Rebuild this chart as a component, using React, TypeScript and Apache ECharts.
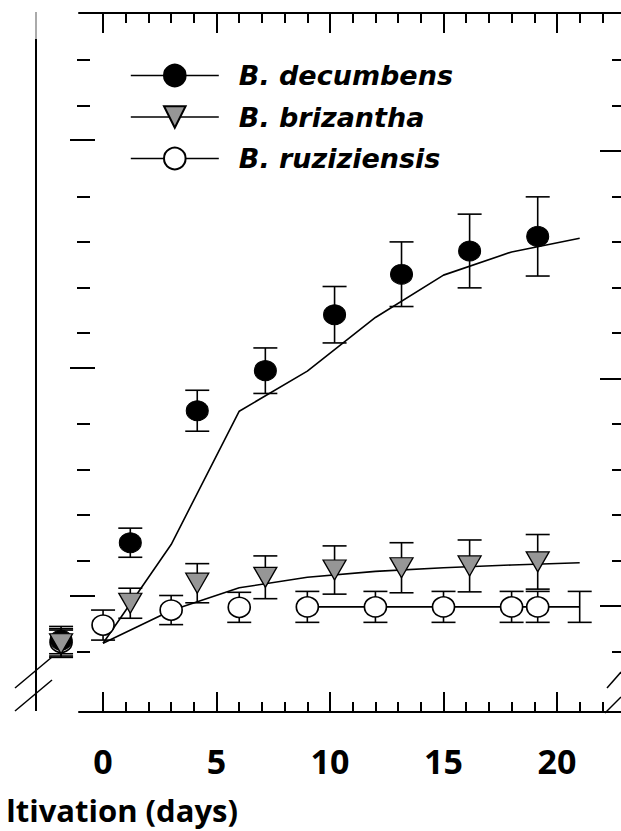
import React, { useEffect, useRef } from "react";
import * as echarts from "echarts";

// ---- data (days of cultivation, y in arbitrary units) ----
const decDays = [-1.85, 1.2, 4.15, 7.15, 10.2, 13.15, 16.15, 19.15];
const decMean = [4.25, 6.39, 9.29, 10.17, 11.4, 12.29, 12.8, 13.12];
const decErr = [0.3, 0.32, 0.45, 0.5, 0.62, 0.71, 0.81, 0.87];

const brizDays = [-1.85, 1.2, 4.15, 7.15, 10.2, 13.15, 16.15, 19.15];
const brizMean = [4.17, 5.06, 5.5, 5.63, 5.79, 5.84, 5.88, 5.97];
const brizErr = [0.3, 0.33, 0.43, 0.47, 0.53, 0.55, 0.57, 0.6];

const ruzDays = [-1.85, 0, 3, 6, 9, 12, 15, 18, 19.15];
const ruzMean = [4.2, 4.58, 4.91, 4.97, 4.98, 4.98, 4.98, 4.98, 4.98];
const ruzErr = [0.3, 0.33, 0.32, 0.33, 0.34, 0.34, 0.34, 0.34, 0.34];
const ruzBarOnlyDays = [21];
const ruzBarOnlyMean = [4.98];
const ruzBarOnlyErr = [0.34];

const decFitDays = [0, 3, 6, 9, 12, 15, 18, 21];
const decFit = [4.18, 6.35, 9.28, 10.16, 11.34, 12.27, 12.78, 13.08];
const brizFitDays = [0, 3, 6, 9, 12, 15, 18, 21];
const brizFit = [4.18, 4.9, 5.4, 5.63, 5.76, 5.84, 5.9, 5.95];
const ruzFitDays = [9, 21];
const ruzFit = [4.98, 4.98];

const xMajorTicks = [0, 5, 10, 15, 20];
const xMinorTicks = [0, 1, 2, 3, 4, 5, 6, 7, 8, 9, 10, 11, 12, 13, 14, 15, 16, 17, 18, 19, 20, 21, 22];
const yRightMinor = [4, 5, 6, 7, 8, 9, 10, 11, 12, 13, 14, 15, 16, 17];
const yRightMajor = [5, 10, 15];
const yLeftMinor = [4, 6, 7, 8, 9, 11, 12, 13, 14, 16, 17];
const yLeftMajor = [5.23, 10.24, 15.24];

const legendNames = ["B. decumbens", "B. brizantha", "B. ruziziensis"];
const xTitle = "ltivation (days)";

const X_MIN = -1.06;
const X_MAX = 22.82;
const Y_MIN = 2.67;
const Y_MAX = 18.03;

const LEGEND_FONT = "DejaVu Sans";
const AXIS_FONT = "Open Sans";

function pairs(xs: number[], ys: number[]) {
  return xs.map((x, i) => [x, ys[i]]);
}
function bars(xs: number[], ys: number[], es: number[]) {
  return xs.map((x, i) => [x, ys[i] - es[i], ys[i] + es[i]]);
}

const errRender = (params: any, api: any) => {
  const x = api.value(0);
  const lo = api.coord([x, api.value(1)]);
  const hi = api.coord([x, api.value(2)]);
  const hw = 12;
  const style = { stroke: "#000", lineWidth: 1.6 };
  return {
    type: "group",
    children: [
      { type: "line", shape: { x1: lo[0], y1: lo[1], x2: hi[0], y2: hi[1] }, style },
      { type: "line", shape: { x1: hi[0] - hw, y1: hi[1], x2: hi[0] + hw, y2: hi[1] }, style },
      { type: "line", shape: { x1: lo[0] - hw, y1: lo[1], x2: lo[0] + hw, y2: lo[1] }, style },
    ],
  };
};

const tickLine = { color: "#000", width: 2 };

function xAxisDef(position: "top" | "bottom", ticks: number[], len: number, showLine: boolean, labels: boolean) {
  return {
    type: "value",
    position,
    min: X_MIN,
    max: X_MAX,
    axisLine: { show: showLine, onZero: false, lineStyle: { color: "#000", width: 2 } },
    axisTick: { show: true, inside: true, length: len, customValues: ticks, lineStyle: tickLine },
    axisLabel: labels
      ? {
          show: true,
          customValues: xMajorTicks,
          margin: 32,
          color: "#000",
          fontFamily: AXIS_FONT,
          fontWeight: "bold",
          fontSize: 34,
        }
      : { show: false },
    splitLine: { show: false },
  };
}

function yAxisDef(position: "left" | "right", ticks: number[], len: number, inside: boolean, offset: number) {
  return {
    type: "value",
    position,
    offset,
    min: Y_MIN,
    max: Y_MAX,
    axisLine: { show: false, onZero: false },
    axisTick: { show: true, inside, length: len, customValues: ticks, lineStyle: tickLine },
    axisLabel: { show: false },
    splitLine: { show: false },
  };
}

export default function App() {
  const ref = useRef<HTMLDivElement>(null);

  useEffect(() => {
    if (!ref.current) return;
    const chart = echarts.init(ref.current, null, { renderer: "svg" });
    const option: any = {
      animation: false,
      backgroundColor: "#fff",
      grid: { left: 79, right: 0, top: 13, bottom: 119, containLabel: false },
      xAxis: [
        xAxisDef("bottom", xMinorTicks, 10, true, true),
        xAxisDef("bottom", xMajorTicks, 20, false, false),
        xAxisDef("top", xMinorTicks, 10, true, false),
        xAxisDef("top", xMajorTicks, 20, false, false),
      ],
      yAxis: [
        yAxisDef("right", yRightMinor, 9, true, 0),
        yAxisDef("right", yRightMajor, 21, true, 0),
        yAxisDef("left", yLeftMinor, 13, false, -11),
        yAxisDef("left", yLeftMajor, 25, false, -16),
      ],
      legend: {
        data: legendNames,
        orient: "vertical",
        left: 130,
        top: 62,
        padding: 0,
        itemWidth: 88,
        itemHeight: 27,
        itemGap: 14.5,
        selectedMode: false,
        lineStyle: { color: "#000", width: 1.6, opacity: 1, type: "solid" },
        textStyle: {
          fontFamily: LEGEND_FONT,
          fontWeight: "bold",
          fontStyle: "italic",
          fontSize: 27,
          color: "#000",
          padding: [0, 0, 0, 15],
        },
      },
      series: [
        { type: "custom", name: "err-ruz", renderItem: errRender, data: bars(ruzDays, ruzMean, ruzErr), encode: { x: 0, y: [1, 2] }, z: 1, silent: true, clip: false },
        { type: "custom", name: "err-ruz-end", renderItem: errRender, data: bars(ruzBarOnlyDays, ruzBarOnlyMean, ruzBarOnlyErr), encode: { x: 0, y: [1, 2] }, z: 1, silent: true },
        { type: "custom", name: "err-dec", renderItem: errRender, data: bars(decDays, decMean, decErr), encode: { x: 0, y: [1, 2] }, z: 1, silent: true, clip: false },
        { type: "custom", name: "err-briz", renderItem: errRender, data: bars(brizDays, brizMean, brizErr), encode: { x: 0, y: [1, 2] }, z: 1, silent: true, clip: false },
        { type: "line", name: "fit-dec", data: pairs(decFitDays, decFit), symbol: "none", lineStyle: { color: "#000", width: 1.6 }, z: 2, silent: true },
        { type: "line", name: "fit-briz", data: pairs(brizFitDays, brizFit), symbol: "none", lineStyle: { color: "#000", width: 1.6 }, z: 2, silent: true },
        { type: "line", name: "fit-ruz", data: pairs(ruzFitDays, ruzFit), symbol: "none", lineStyle: { color: "#000", width: 1.6 }, z: 2, silent: true },
        {
          type: "line",
          name: "B. ruziziensis",
          data: pairs(ruzDays, ruzMean),
          symbol: "circle",
          symbolSize: [22, 20],
          clip: false,
          itemStyle: { color: "#fff", borderColor: "#000", borderWidth: 1.6 },
          lineStyle: { opacity: 0 },
          z: 3,
        },
        {
          type: "line",
          name: "B. decumbens",
          data: pairs(decDays, decMean),
          symbol: "circle",
          symbolSize: [22, 20],
          clip: false,
          itemStyle: { color: "#000", borderColor: "#000", borderWidth: 1 },
          lineStyle: { opacity: 0 },
          z: 4,
        },
        {
          type: "line",
          name: "B. brizantha",
          data: pairs(brizDays, brizMean),
          symbol: "triangle",
          symbolRotate: 180,
          symbolSize: [23, 20],
          clip: false,
          itemStyle: { color: "#969696", borderColor: "#000", borderWidth: 1.3 },
          lineStyle: { opacity: 0 },
          z: 5,
        },
      ],
      graphic: [
        { type: "line", shape: { x1: 36, y1: 39, x2: 36, y2: 711 }, style: { stroke: "#000", lineWidth: 2 } },
        { type: "line", shape: { x1: 36, y1: 12, x2: 36, y2: 39 }, style: { stroke: "#aaa", lineWidth: 2 } },
        { type: "line", shape: { x1: 15, y1: 688, x2: 52, y2: 657 }, style: { stroke: "#000", lineWidth: 1.5 } },
        { type: "line", shape: { x1: 15, y1: 711, x2: 52, y2: 680 }, style: { stroke: "#000", lineWidth: 1.5 } },
        { type: "line", shape: { x1: 605, y1: 713, x2: 621, y2: 697 }, style: { stroke: "#000", lineWidth: 1.5 } },
        { type: "line", shape: { x1: 607, y1: 688, x2: 621, y2: 672 }, style: { stroke: "#000", lineWidth: 1.5 } },
        {
          type: "text",
          x: 238,
          y: 810,
          style: {
            text: xTitle,
            align: "right",
            verticalAlign: "middle",
            font: `bold 31px "${AXIS_FONT}"`,
            fill: "#000",
          },
        },
      ],
    };
    chart.setOption(option);
    return () => chart.dispose();
  }, []);

  return (
    <div
      ref={ref}
      style={{ position: "fixed", left: 0, top: 0, width: 621, height: 831, background: "#fff" }}
    />
  );
}
